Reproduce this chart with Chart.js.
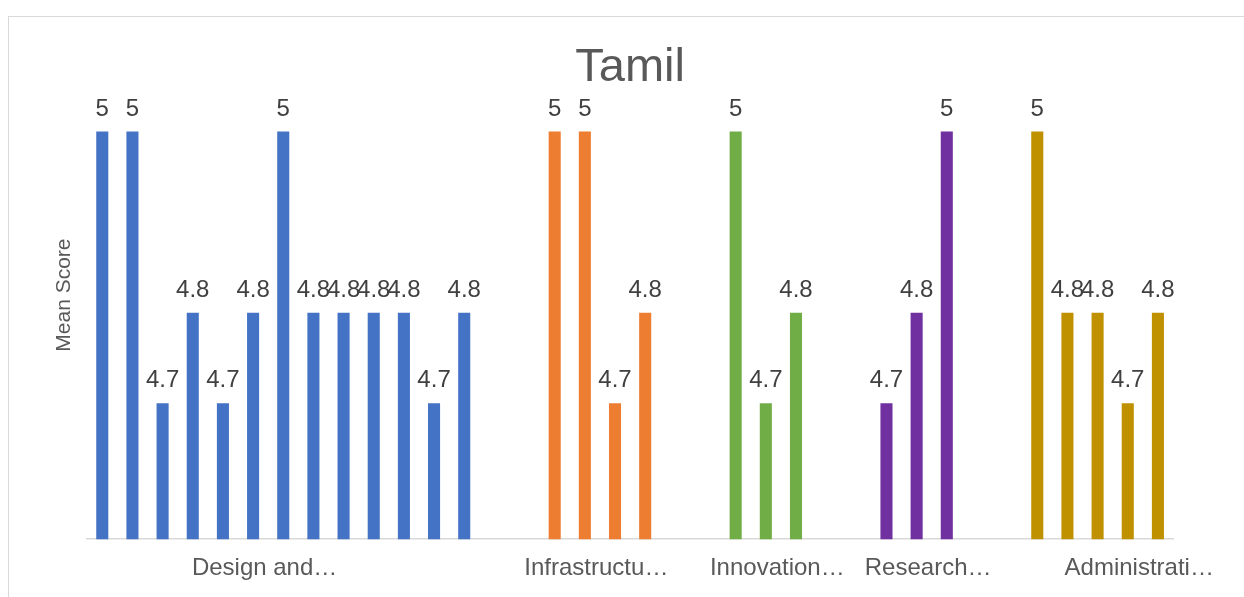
<!DOCTYPE html>
<html>
<head>
<meta charset="utf-8">
<script src="https://cdn.jsdelivr.net/npm/chart.js@4/dist/chart.umd.min.js"></script>
<style>
  html, body { margin: 0; padding: 0; background: #fff; overflow: hidden; }
  #frame {
    position: absolute; left: 8px; top: 16px; width: 1400px; height: 800px;
    border-top: 1.5px solid #d9d9d9; border-left: 1.5px solid #d9d9d9;
  }
  #chart { position: absolute; left: 0; top: 0; }
</style>
</head>
<body>
<div id="frame"></div>
<canvas id="chart" width="1244" height="597"></canvas>
<script>
// groups as they appear left to right
const groupNames = ['Design and\u2026', 'Infrastructu\u2026', 'Innovation\u2026', 'Research\u2026', 'Administrati\u2026'];
const designScores = [5, 5, 4.7, 4.8, 4.7, 4.8, 5, 4.8, 4.8, 4.8, 4.8, 4.7, 4.8];
const infraScores = [5, 5, 4.7, 4.8];
const innovationScores = [5, 4.7, 4.8];
const researchScores = [4.7, 4.8, 5];
const adminScores = [5, 4.8, 4.8, 4.7, 4.8];
const groupColors = ['#4472C4', '#ED7D31', '#70AD47', '#7030A0', '#BF9000'];

// slot (within each group) under which the category name sits
const labelAt = [5, 1, 1, 1, 3];
const GAP = 2; // empty slots between groups

const groups = [designScores, infraScores, innovationScores, researchScores, adminScores];
const labels = [];
const values = [];
const colors = [];
groups.forEach((g, gi) => {
    if (gi > 0) {
        for (let k = 0; k < GAP; k++) { labels.push(''); values.push(null); colors.push('transparent'); }
    }
    g.forEach((v, i) => {
        labels.push(i === labelAt[gi] ? groupNames[gi] : '');
        values.push(v);
        colors.push(groupColors[gi]);
    });
});

const FONT = '"Liberation Sans", Arial, sans-serif';

// value labels above each bar
const barValues = {
    id: 'barValues',
    afterDatasetsDraw(chart) {
        const ctx = chart.ctx;
        const meta = chart.getDatasetMeta(0);
        ctx.save();
        ctx.font = '24px ' + FONT;
        ctx.fillStyle = '#404040';
        ctx.textAlign = 'center';
        ctx.textBaseline = 'alphabetic';
        meta.data.forEach((bar, i) => {
            const v = values[i];
            if (v === null) return;
            ctx.fillText(String(v), bar.x, bar.y - 16);
        });
        ctx.restore();
    }
};

const ctx = document.getElementById('chart').getContext('2d');
new Chart(ctx, {
    type: 'bar',
    data: {
        labels: labels,
        datasets: [{
            data: values,
            backgroundColor: colors,
            categoryPercentage: 1,
            barPercentage: 0.4
        }]
    },
    options: {
        responsive: false,
        animation: false,
        layout: { padding: { left: 48, right: 71, top: 0, bottom: -1 } },
        plugins: {
            legend: { display: false },
            tooltip: { enabled: false },
            title: {
                display: true,
                fullSize: false,
                text: 'Tamil',
                color: '#595959',
                font: { family: FONT, size: 47, weight: 'normal' },
                padding: { top: 40, bottom: -45.4 }
            }
        },
        scales: {
            x: {
                grid: { display: false, drawTicks: false },
                border: { display: true, color: '#d9d9d9', width: 1.5 },
                ticks: {
                    autoSkip: false,
                    maxRotation: 0,
                    labelOffset: 11.5,
                    padding: 15,
                    color: '#595959',
                    font: { family: FONT, size: 24 }
                }
            },
            y: {
                min: 4.55,
                max: 5.089,
                grid: { display: false, drawTicks: false },
                border: { display: false },
                ticks: { display: false },
                title: {
                    display: true,
                    text: 'Mean Score',
                    color: '#595959',
                    font: { family: FONT, size: 21 },
                    padding: { top: 4, bottom: 10 }
                }
            }
        }
    },
    plugins: [barValues]
});
</script>
</body>
</html>
